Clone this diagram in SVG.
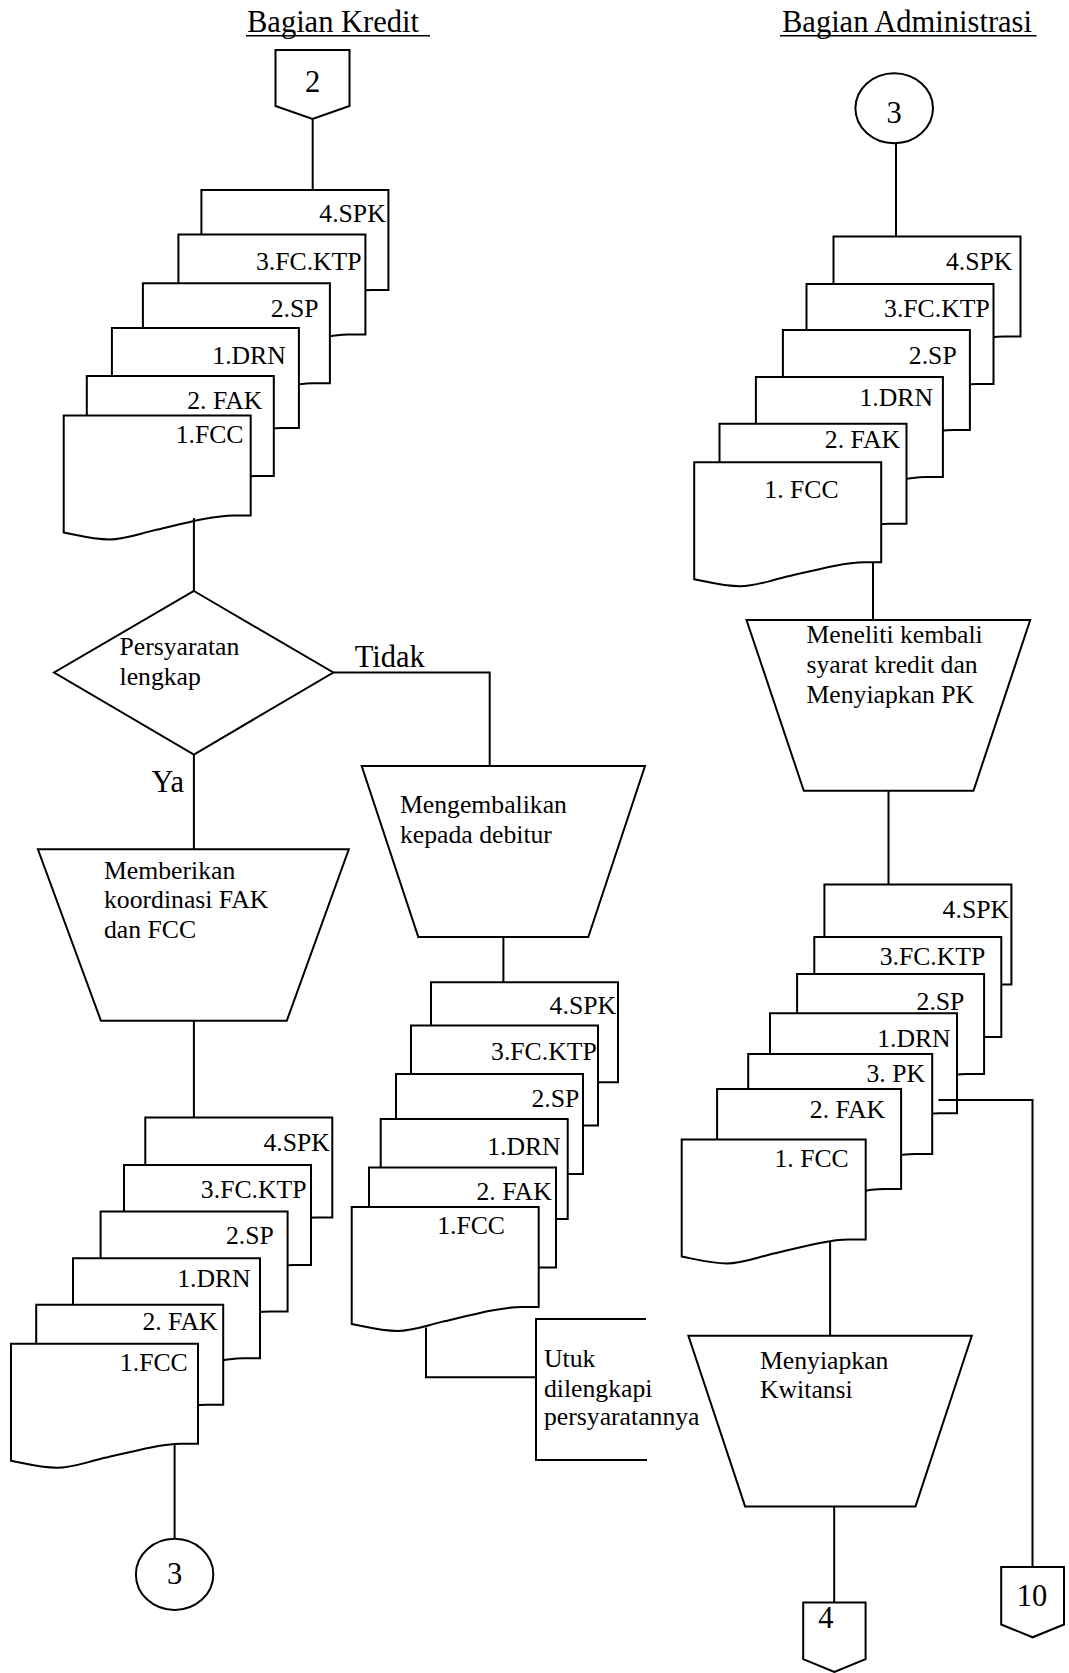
<svg xmlns="http://www.w3.org/2000/svg" xmlns:xlink="http://www.w3.org/1999/xlink" width="1069" height="1673" viewBox="0 0 1069 1673">
  <style>
    .s { fill:#fff; stroke:#000; stroke-width:2; }
    .c { fill:none; stroke:#000; stroke-width:2; }
    .t { font-family:"Liberation Serif","Times New Roman",serif; font-size:25.7px; fill:#000; }
    .tl { font-size:30.5px; }
    .e { text-anchor:end; }
    .m { text-anchor:middle; }
  </style>
  <defs>
    <!-- document shape: flat top, wavy bottom -->
    <path id="doc" class="s" d="M0,0 H187 V100 H170 C150,100 120,108 90,115 C70,120 60,124 46,124 C30,124 15,120 0,117 Z"/>
    <path id="docn" class="s" d="M0,0 H184 V100 H167 C147,100 118,108 88,115 C69,120 59,124 45,124 C30,124 15,120 0,117 Z"/>
  </defs>
  <rect width="1069" height="1673" fill="#fff"/>

  <!-- lane titles -->
  <g id="title-kredit">
    <text class="t tl" x="247" y="32">Bagian Kredit</text>
    <line x1="246" y1="35.7" x2="430" y2="35.7" stroke="#000" stroke-width="1.5"/>
  </g>
  <g id="title-admin">
    <text class="t tl" x="782" y="32">Bagian Administrasi</text>
    <line x1="780" y1="35.7" x2="1036.6" y2="35.7" stroke="#000" stroke-width="1.5"/>
  </g>

  <!-- Bagian Kredit -->
  <g id="offpage-2">
    <polygon class="s" points="275.5,50 349.5,50 349.5,106 312.5,119 275.5,106"/>
    <text class="t tl m" x="312.5" y="92">2</text>
  </g>

  <g id="docs-kredit-in">
    <use xlink:href="#doc" x="201.4" y="190"/>
    <text class="t e" x="385.7" y="222">4.SPK</text>
    <use xlink:href="#doc" x="178.4" y="234.6"/>
    <text class="t e" x="361.6" y="269.6">3.FC.KTP</text>
    <use xlink:href="#doc" x="142.9" y="283.2"/>
    <text class="t e" x="318.5" y="317">2.SP</text>
    <use xlink:href="#doc" x="111.9" y="327.9"/>
    <text class="t e" x="285.8" y="363.6">1.DRN</text>
    <use xlink:href="#doc" x="86.8" y="376"/>
    <text class="t e" x="262.4" y="409">2. FAK</text>
    <use xlink:href="#doc" x="63.7" y="415.4"/>
    <text class="t e" x="243.5" y="442.9">1.FCC</text>
  </g>

  <g id="decision-lengkap">
    <polygon class="s" points="193.9,591 333.3,672.5 193.9,754.6 54.1,672.5"/>
    <text class="t" x="119.5" y="654.6">Persyaratan</text>
    <text class="t" x="119.5" y="685">lengkap</text>
  </g>

  <g id="proc-memberikan">
    <polygon class="s" points="37.9,849.3 348.8,849.3 286.8,1020.7 100.9,1020.7"/>
    <text class="t" x="104" y="878.9">Memberikan</text>
    <text class="t" x="104" y="908.2">koordinasi FAK</text>
    <text class="t" x="104" y="937.9">dan FCC</text>
  </g>

  <g id="proc-mengembalikan">
    <polygon class="s" points="361.7,766 645,766 588.3,937 418.3,937"/>
    <text class="t" x="400" y="812.7">Mengembalikan</text>
    <text class="t" x="400" y="842.6">kepada debitur</text>
  </g>

  <g id="docs-debitur">
    <use xlink:href="#doc" x="431" y="982.2"/>
    <text class="t e" x="616" y="1013.6">4.SPK</text>
    <use xlink:href="#doc" x="411" y="1025.5"/>
    <text class="t e" x="596.7" y="1059.6">3.FC.KTP</text>
    <use xlink:href="#doc" x="396" y="1074.1"/>
    <text class="t e" x="579.3" y="1107.4">2.SP</text>
    <use xlink:href="#doc" x="380.7" y="1118.9"/>
    <text class="t e" x="560.7" y="1155.2">1.DRN</text>
    <use xlink:href="#doc" x="369" y="1167.5"/>
    <text class="t e" x="551.7" y="1200.4">2. FAK</text>
    <use xlink:href="#doc" x="351.7" y="1206.9"/>
    <text class="t e" x="505" y="1233.7">1.FCC</text>
  </g>

  <g id="note-lengkapi">
    <polyline class="c" points="646,1319 536,1319 536,1460 647,1460"/>
    <text class="t" x="544" y="1367">Utuk</text>
    <text class="t" x="544" y="1397">dilengkapi</text>
    <text class="t" x="544" y="1425">persyaratannya</text>
  </g>

  <g id="docs-kredit-out">
    <use xlink:href="#doc" x="145.3" y="1117.5"/>
    <text class="t e" x="329.9" y="1151.2">4.SPK</text>
    <use xlink:href="#doc" x="124" y="1165"/>
    <text class="t e" x="306.5" y="1198">3.FC.KTP</text>
    <use xlink:href="#doc" x="100.6" y="1211.5"/>
    <text class="t e" x="273.8" y="1244.4">2.SP</text>
    <use xlink:href="#doc" x="73" y="1258.3"/>
    <text class="t e" x="250.7" y="1287.1">1.DRN</text>
    <use xlink:href="#doc" x="36.2" y="1304.7"/>
    <text class="t e" x="217.6" y="1330.3">2. FAK</text>
    <use xlink:href="#doc" x="11" y="1343.8"/>
    <text class="t e" x="187.7" y="1370.5">1.FCC</text>
  </g>

  <g id="onpage-3-out">
    <ellipse class="s" cx="174.6" cy="1574.4" rx="38.7" ry="35.6"/>
    <text class="t tl m" x="174.6" y="1584.3">3</text>
  </g>

  <!-- Bagian Administrasi -->
  <g id="onpage-3-in">
    <ellipse class="s" cx="894.2" cy="108.3" rx="38.8" ry="35"/>
    <text class="t tl m" x="894.2" y="122.5">3</text>
  </g>

  <g id="docs-admin-in">
    <use xlink:href="#doc" x="833.5" y="236.5"/>
    <text class="t e" x="1012.3" y="269.8">4.SPK</text>
    <use xlink:href="#doc" x="806.5" y="284"/>
    <text class="t e" x="989.7" y="316.9">3.FC.KTP</text>
    <use xlink:href="#doc" x="782.9" y="329.9"/>
    <text class="t e" x="956.7" y="363.6">2.SP</text>
    <use xlink:href="#doc" x="755.9" y="377"/>
    <text class="t e" x="933" y="405.7">1.DRN</text>
    <use xlink:href="#doc" x="719.5" y="423.7"/>
    <text class="t e" x="900" y="447.8">2. FAK</text>
    <use xlink:href="#doc" x="694.2" y="462.3"/>
    <text class="t e" x="838.6" y="497.5">1. FCC</text>
  </g>

  <g id="proc-meneliti">
    <polygon class="s" points="746.5,620 1030.2,620 973.5,790.7 803.8,790.7"/>
    <text class="t" x="806.5" y="642.5">Meneliti kembali</text>
    <text class="t" x="806.5" y="672.9">syarat kredit dan</text>
    <text class="t" x="806.5" y="702.5">Menyiapkan PK</text>
  </g>

  <g id="docs-admin-out">
    <use xlink:href="#doc" x="824.4" y="884.6"/>
    <text class="t e" x="1009" y="917.5">4.SPK</text>
    <use xlink:href="#doc" x="814.3" y="937.1"/>
    <text class="t e" x="985.3" y="965">3.FC.KTP</text>
    <use xlink:href="#doc" x="797.1" y="973.9"/>
    <text class="t e" x="964.4" y="1009.6">2.SP</text>
    <use xlink:href="#doc" x="770" y="1013.2"/>
    <text class="t e" x="950.7" y="1046.5">1.DRN</text>
    <use xlink:href="#docn" x="748.2" y="1053.9"/>
    <text class="t e" x="925" y="1081.8">3. PK</text>
    <use xlink:href="#docn" x="717.1" y="1088.9"/>
    <text class="t e" x="885" y="1118">2. FAK</text>
    <use xlink:href="#docn" x="681.7" y="1139.5"/>
    <text class="t e" x="848.7" y="1166.9">1. FCC</text>
  </g>

  <g id="proc-kwitansi">
    <polygon class="s" points="688.4,1335.7 971.8,1335.7 915.5,1506.4 745.1,1506.4"/>
    <text class="t" x="760" y="1368.6">Menyiapkan</text>
    <text class="t" x="760" y="1397.9">Kwitansi</text>
  </g>

  <g id="offpage-4">
    <polygon class="s" points="803.2,1602.6 865.6,1602.6 865.6,1659.2 834.4,1672 803.2,1659.2"/>
    <text class="t tl" x="818.3" y="1628">4</text>
  </g>

  <g id="offpage-10">
    <polygon class="s" points="1001.2,1567.1 1064,1567.1 1064,1624.5 1032.6,1637.3 1001.2,1624.5"/>
    <text class="t tl m" x="1032" y="1606.2">10</text>
  </g>

  <!-- flow lines -->
  <g id="connectors" class="c">
    <line x1="312.7" y1="119" x2="312.7" y2="190"/>
    <line x1="193.9" y1="518" x2="193.9" y2="591"/>
    <polyline points="333.3,672.5 489.7,672.5 489.7,766"/>
    <line x1="193.9" y1="754.6" x2="193.9" y2="849.3"/>
    <line x1="193.9" y1="1020.7" x2="193.9" y2="1117.5"/>
    <line x1="174.6" y1="1444" x2="174.6" y2="1538.8"/>
    <line x1="503.4" y1="937" x2="503.4" y2="982.2"/>
    <polyline points="426,1327.5 426,1377.3 536,1377.3"/>
    <line x1="896" y1="143.3" x2="896" y2="236.5"/>
    <line x1="873" y1="562.3" x2="873" y2="620"/>
    <line x1="888.5" y1="790.7" x2="888.5" y2="884.6"/>
    <polyline points="938.5,1100 1032.5,1100 1032.5,1567.1"/>
    <line x1="830.1" y1="1241.5" x2="830.1" y2="1335.7"/>
    <line x1="834.2" y1="1506.4" x2="834.2" y2="1602.6"/>
    <text class="t tl" x="354.7" y="667" stroke="none" fill="#000">Tidak</text>
    <text class="t tl" x="151.5" y="792" stroke="none" fill="#000">Ya</text>
  </g>
</svg>
